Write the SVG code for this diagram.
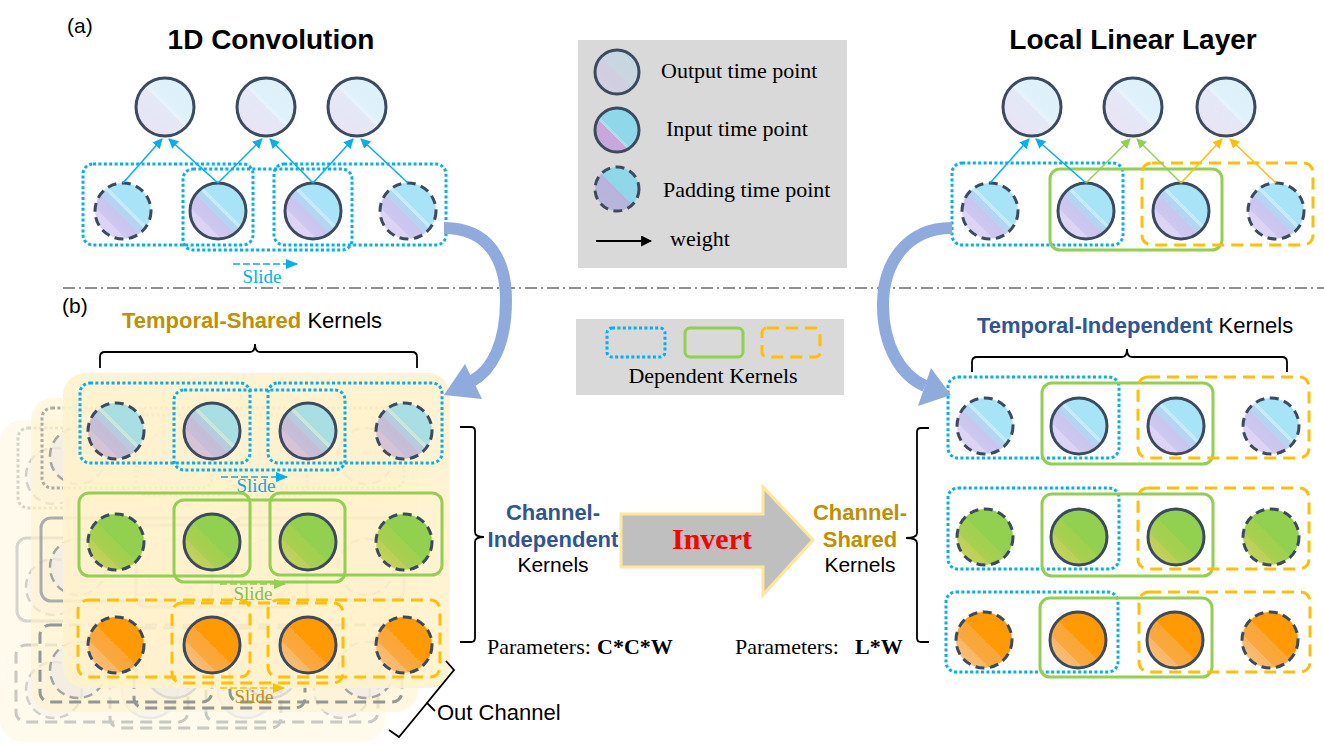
<svg xmlns="http://www.w3.org/2000/svg" xmlns:xlink="http://www.w3.org/1999/xlink" width="1324" height="744" viewBox="0 0 1324 744">
<defs>
<style>
.sans{font-family:"Liberation Sans",Arial,sans-serif}
.serif{font-family:"Liberation Serif","Times New Roman",serif}
.c{stroke:#3b4a5e;stroke-width:3}
.pad{stroke-dasharray:9 5.5}
.bd{fill:none;stroke:#00b0f0;stroke-width:3;stroke-dasharray:3 2.4}
.bg{fill:none;stroke:#92d050;stroke-width:3}
.bo{fill:none;stroke:#ffc000;stroke-width:3;stroke-dasharray:12 7}
.gc{fill:#e9e6f2;fill-opacity:0.6;stroke:#cfcfcf;stroke-width:2.5}
.gp{fill:#e9e6f2;fill-opacity:0.6;stroke:#7d8490;stroke-width:2.5;stroke-dasharray:9 5.5}
.gbd{fill:none;stroke:#8c8c8c;stroke-width:3;stroke-dasharray:3 2.4}
.gbs{fill:none;stroke:#8a9099;stroke-width:3}
.gbo{fill:none;stroke:#66707c;stroke-width:3;stroke-dasharray:12 7}
.brace{fill:none;stroke:#000;stroke-width:1.8}
.curve{fill:none;stroke:#8faadc;stroke-width:12}
</style>
<linearGradient id="gOut" x1="1" y1="0" x2="0" y2="1">
<stop offset="0" stop-color="#ddf2fa"/><stop offset="0.45" stop-color="#dff1fa"/><stop offset="0.45" stop-color="#e6f3fa"/><stop offset="0.5" stop-color="#e6f3fa"/><stop offset="0.5" stop-color="#e4e8f7"/><stop offset="0.8" stop-color="#e8e4f6"/><stop offset="0.8" stop-color="#ece2f5"/><stop offset="1" stop-color="#ece0f4"/>
</linearGradient>
<linearGradient id="gBlue" x1="1" y1="0" x2="0" y2="1">
<stop offset="0" stop-color="#a8e4f7"/><stop offset="0.42" stop-color="#a8e4f7"/><stop offset="0.42" stop-color="#c4ebf8"/><stop offset="0.47" stop-color="#c4ebf8"/><stop offset="0.47" stop-color="#b4d6f2"/><stop offset="0.56" stop-color="#b8d2f2"/><stop offset="0.56" stop-color="#c9c5ef"/><stop offset="0.72" stop-color="#cfc8f0"/><stop offset="0.72" stop-color="#ddd3f4"/><stop offset="0.86" stop-color="#ddd3f4"/><stop offset="0.86" stop-color="#ecd4f1"/><stop offset="1" stop-color="#ecd4f1"/>
</linearGradient>
<linearGradient id="gBlueT" x1="1" y1="0" x2="0" y2="1">
<stop offset="0" stop-color="#a6dfe4"/><stop offset="0.42" stop-color="#a8dfe3"/><stop offset="0.42" stop-color="#c8e6dc"/><stop offset="0.47" stop-color="#c8e6dc"/><stop offset="0.47" stop-color="#b4cedc"/><stop offset="0.56" stop-color="#b8cadc"/><stop offset="0.56" stop-color="#c4bcd8"/><stop offset="0.72" stop-color="#c8bed8"/><stop offset="0.72" stop-color="#d6c4d6"/><stop offset="0.86" stop-color="#d6c4d6"/><stop offset="0.86" stop-color="#e8ccce"/><stop offset="1" stop-color="#e8ccce"/>
</linearGradient>
<linearGradient id="gGreen" x1="1" y1="0" x2="0" y2="1">
<stop offset="0" stop-color="#92d050"/><stop offset="0.5" stop-color="#92d050"/><stop offset="0.5" stop-color="#9fd14e"/><stop offset="0.7" stop-color="#a9cf52"/><stop offset="0.7" stop-color="#b9d056"/><stop offset="0.85" stop-color="#c4d35a"/><stop offset="0.85" stop-color="#d2d65e"/><stop offset="1" stop-color="#d2d65e"/>
</linearGradient>
<linearGradient id="gOrange" x1="1" y1="0" x2="0" y2="1">
<stop offset="0" stop-color="#ff9900"/><stop offset="0.5" stop-color="#ff9a05"/><stop offset="0.5" stop-color="#fba535"/><stop offset="0.7" stop-color="#f9a93f"/><stop offset="0.7" stop-color="#f9b766"/><stop offset="0.85" stop-color="#f9bd72"/><stop offset="0.85" stop-color="#fbc68e"/><stop offset="1" stop-color="#fbc68e"/>
</linearGradient>
<linearGradient id="gLOut" x1="1" y1="0" x2="0" y2="1">
<stop offset="0" stop-color="#c3d9e3"/><stop offset="0.52" stop-color="#c8d6e0"/><stop offset="0.52" stop-color="#cfcfe1"/><stop offset="1" stop-color="#d3cfe2"/>
</linearGradient>
<linearGradient id="gLIn" x1="1" y1="0" x2="0" y2="1">
<stop offset="0" stop-color="#8ed8ea"/><stop offset="0.55" stop-color="#8ed8ea"/><stop offset="0.55" stop-color="#a9dfe8"/><stop offset="0.6" stop-color="#a9dfe8"/><stop offset="0.6" stop-color="#c8a8dc"/><stop offset="1" stop-color="#c8a8dc"/>
</linearGradient>
<linearGradient id="gLPad" x1="1" y1="0" x2="0" y2="1">
<stop offset="0" stop-color="#8ed8ea"/><stop offset="0.5" stop-color="#8ed8ea"/><stop offset="0.5" stop-color="#b6b4dc"/><stop offset="1" stop-color="#b8b6dc"/>
</linearGradient>
<marker id="mb" viewBox="0 0 10 10" refX="9" refY="5" markerWidth="10" markerHeight="10" markerUnits="userSpaceOnUse" orient="auto"><path d="M0,0 L10,5 L0,10 z" fill="#00b0f0"/></marker>
<marker id="mg" viewBox="0 0 10 10" refX="9" refY="5" markerWidth="10" markerHeight="10" markerUnits="userSpaceOnUse" orient="auto"><path d="M0,0 L10,5 L0,10 z" fill="#92d050"/></marker>
<marker id="mo" viewBox="0 0 10 10" refX="9" refY="5" markerWidth="10" markerHeight="10" markerUnits="userSpaceOnUse" orient="auto"><path d="M0,0 L10,5 L0,10 z" fill="#ffc000"/></marker>
<marker id="mk" viewBox="0 0 10 10" refX="9" refY="5" markerWidth="11" markerHeight="11" markerUnits="userSpaceOnUse" orient="auto"><path d="M0,0 L10,5 L0,10 z" fill="#000"/></marker>
<marker id="sb" viewBox="0 0 12 10" refX="11" refY="5" markerWidth="12" markerHeight="10" markerUnits="userSpaceOnUse" orient="auto"><path d="M0,0 L12,5 L0,10 z" fill="#00b0f0"/></marker>
<marker id="sg" viewBox="0 0 12 10" refX="11" refY="5" markerWidth="12" markerHeight="10" markerUnits="userSpaceOnUse" orient="auto"><path d="M0,0 L12,5 L0,10 z" fill="#92d050"/></marker>
<marker id="so" viewBox="0 0 12 10" refX="11" refY="5" markerWidth="12" markerHeight="10" markerUnits="userSpaceOnUse" orient="auto"><path d="M0,0 L12,5 L0,10 z" fill="#ffc000"/></marker>
<g id="ghost">
<circle class="gp" cx="116" cy="431" r="28"/><circle class="gc" cx="212" cy="431" r="28"/><circle class="gc" cx="308" cy="431" r="28"/><circle class="gp" cx="404" cy="431" r="28"/>
<circle class="gp" cx="116" cy="542" r="28"/><circle class="gc" cx="212" cy="542" r="28"/><circle class="gc" cx="308" cy="542" r="28"/><circle class="gp" cx="404" cy="542" r="28"/>
<circle class="gp" cx="116" cy="645" r="28"/><circle class="gc" cx="212" cy="645" r="28"/><circle class="gc" cx="308" cy="645" r="28"/><circle class="gp" cx="404" cy="645" r="28"/>
<rect class="gbd" x="80" y="383" width="170" height="80" rx="10"/><rect class="gbd" x="174" y="390" width="171" height="80" rx="10"/><rect class="gbd" x="268" y="383" width="174" height="80" rx="10"/>
<rect class="gbs" x="79" y="493" width="171" height="83" rx="10"/><rect class="gbs" x="174" y="500" width="171" height="82" rx="10"/><rect class="gbs" x="270" y="493" width="172" height="82" rx="10"/>
<rect class="gbo" x="78" y="600" width="172" height="77" rx="10"/><rect class="gbo" x="172" y="603" width="171" height="80" rx="10"/><rect class="gbo" x="268" y="600" width="172" height="77" rx="10"/>
</g>
</defs>

<rect width="1324" height="744" fill="#ffffff"/>

<!-- titles and labels -->
<g id="labels" class="sans">
<text x="67" y="33" font-size="21">(a)</text>
<text x="271" y="49" font-size="28" font-weight="bold" text-anchor="middle">1D Convolution</text>
<text x="1133" y="49" font-size="28" font-weight="bold" text-anchor="middle">Local Linear Layer</text>
<text x="62" y="313" font-size="21">(b)</text>
<text x="122" y="328" font-size="22"><tspan font-weight="bold" fill="#bf9000">Temporal-Shared</tspan> Kernels</text>
<text x="977" y="333" font-size="22"><tspan font-weight="bold" fill="#2f5597">Temporal-Independent</tspan> Kernels</text>
<text x="553" y="520" font-size="22" font-weight="bold" fill="#2f5597" text-anchor="middle">Channel-</text>
<text x="553" y="547" font-size="22" font-weight="bold" fill="#2f5597" text-anchor="middle">Independent</text>
<text x="553" y="572" font-size="21" text-anchor="middle">Kernels</text>
<text x="860" y="520" font-size="22" font-weight="bold" fill="#bf9000" text-anchor="middle">Channel-</text>
<text x="860" y="547" font-size="22" font-weight="bold" fill="#bf9000" text-anchor="middle">Shared</text>
<text x="860" y="572" font-size="21" text-anchor="middle">Kernels</text>
<text x="437" y="720" font-size="22">Out Channel</text>
</g>
<g id="params" class="serif" font-size="22">
<text x="487" y="654">Parameters:<tspan x="597" font-weight="bold">C*C*W</tspan></text>
<text x="735" y="654">Parameters:<tspan x="855" font-weight="bold">L*W</tspan></text>
</g>

<!-- legend -->
<g id="legend">
<rect x="578" y="40" width="269" height="228" fill="#d9d9d9"/>
<circle cx="617" cy="72" r="22" fill="url(#gLOut)" class="c"/>
<circle cx="617" cy="130" r="22" fill="url(#gLIn)" class="c"/>
<circle cx="617" cy="189" r="22" fill="url(#gLPad)" class="c pad"/>
<line x1="596" y1="241" x2="651" y2="241" stroke="#000" stroke-width="1.8" marker-end="url(#mk)"/>
<g class="serif" font-size="22">
<text x="661" y="78">Output time point</text>
<text x="666" y="136">Input time point</text>
<text x="663" y="197">Padding time point</text>
<text x="670" y="246">weight</text>
</g>
</g>
<g id="legend-kernels">
<rect x="576" y="319" width="268" height="76" fill="#d9d9d9"/>
<rect class="bd" x="607" y="328" width="58" height="29" rx="5"/>
<rect class="bg" x="685" y="328" width="58" height="29" rx="5"/>
<rect class="bo" x="762" y="328" width="58" height="29" rx="5" stroke-dasharray="10 7"/>
<text x="713" y="383" class="serif" font-size="22" text-anchor="middle">Dependent Kernels</text>
</g>

<!-- separator -->
<line x1="63" y1="288" x2="1324" y2="288" stroke="#222" stroke-width="1.2" stroke-dasharray="12 4 2 4"/>

<!-- (a) 1D convolution -->
<g id="a-conv">
<g id="a-out1"><circle cx="165" cy="107" r="29" fill="url(#gOut)" class="c"/></g>
<g id="a-out2"><circle cx="266" cy="107" r="29" fill="url(#gOut)" class="c"/></g>
<g id="a-out3"><circle cx="357" cy="107" r="29" fill="url(#gOut)" class="c"/></g>
<g id="a-in1"><circle cx="123" cy="211" r="28" fill="url(#gBlue)" class="c pad"/></g>
<g id="a-in2"><circle cx="218" cy="211" r="28" fill="url(#gBlue)" class="c"/></g>
<g id="a-in3"><circle cx="313" cy="211" r="28" fill="url(#gBlue)" class="c"/></g>
<g id="a-in4"><circle cx="408" cy="211" r="28" fill="url(#gBlue)" class="c pad"/></g>
<g id="a-k1"><rect class="bd" x="83" y="164" width="170" height="81" rx="10"/></g>
<g id="a-k2"><rect class="bd" x="183" y="169" width="169" height="81" rx="10"/></g>
<g id="a-k3"><rect class="bd" x="274" y="164" width="172" height="81" rx="10"/></g>
<text x="262" y="283" class="serif" font-size="19" fill="#00b0f0" text-anchor="middle">Slide</text>
</g>

<!-- (a) local linear -->
<g id="a-lll">
<g id="l-out1"><circle cx="1032" cy="107" r="29" fill="url(#gOut)" class="c"/></g>
<g id="l-out2"><circle cx="1133" cy="107" r="29" fill="url(#gOut)" class="c"/></g>
<g id="l-out3"><circle cx="1226" cy="107" r="29" fill="url(#gOut)" class="c"/></g>
<g id="l-in1"><circle cx="990" cy="211" r="28" fill="url(#gBlue)" class="c pad"/></g>
<g id="l-in2"><circle cx="1086" cy="211" r="28" fill="url(#gBlue)" class="c"/></g>
<g id="l-in3"><circle cx="1181" cy="211" r="28" fill="url(#gBlue)" class="c"/></g>
<g id="l-in4"><circle cx="1276" cy="211" r="28" fill="url(#gBlue)" class="c pad"/></g>
<g id="l-k1"><rect class="bd" x="952" y="163" width="171" height="82" rx="10"/></g>
<g id="l-k2"><rect class="bg" x="1050" y="169" width="172" height="81" rx="10"/></g>
<g id="l-k3"><rect class="bo" x="1142" y="163" width="171" height="82" rx="10"/></g>
</g>

<!-- (b) stacked panels -->
<g id="b-stack">
<rect x="0" y="420" width="385" height="322" rx="22" fill="#fff2cc" fill-opacity="0.4"/>
<use xlink:href="#ghost" href="#ghost" transform="translate(-62,45)" opacity="0.35"/>
<rect x="31" y="398" width="387" height="314" rx="22" fill="#fff2cc" fill-opacity="0.6"/>
<use xlink:href="#ghost" href="#ghost" transform="translate(-38,25)" opacity="0.7"/>
<rect x="63" y="373" width="387" height="315" rx="22" fill="#fff2cc" fill-opacity="0.9"/>
</g>
<g id="b-left">
<g id="bl-r1">
<circle cx="116" cy="431" r="28" fill="url(#gBlueT)" class="c pad"/>
<circle cx="212" cy="431" r="28" fill="url(#gBlueT)" class="c"/>
<circle cx="308" cy="431" r="28" fill="url(#gBlueT)" class="c"/>
<circle cx="404" cy="431" r="28" fill="url(#gBlueT)" class="c pad"/>
<rect class="bd" x="80" y="383" width="170" height="80" rx="10"/>
<rect class="bd" x="174" y="390" width="171" height="80" rx="10"/>
<rect class="bd" x="268" y="383" width="174" height="80" rx="10"/>
<text x="256" y="492" class="serif" font-size="19" fill="#1aa3dc" text-anchor="middle">Slide</text>
</g>
<g id="bl-r2">
<circle cx="116" cy="542" r="28" fill="url(#gGreen)" class="c pad"/>
<circle cx="212" cy="542" r="28" fill="url(#gGreen)" class="c"/>
<circle cx="308" cy="542" r="28" fill="url(#gGreen)" class="c"/>
<circle cx="404" cy="542" r="28" fill="url(#gGreen)" class="c pad"/>
<rect class="bg" x="79" y="493" width="171" height="83" rx="10"/>
<rect class="bg" x="174" y="500" width="171" height="82" rx="10"/>
<rect class="bg" x="270" y="493" width="172" height="82" rx="10"/>
<text x="253" y="600" class="serif" font-size="19" fill="#7fbf4a" text-anchor="middle">Slide</text>
</g>
<g id="bl-r3">
<circle cx="116" cy="645" r="28" fill="url(#gOrange)" class="c pad"/>
<circle cx="212" cy="645" r="28" fill="url(#gOrange)" class="c"/>
<circle cx="308" cy="645" r="28" fill="url(#gOrange)" class="c"/>
<circle cx="404" cy="645" r="28" fill="url(#gOrange)" class="c pad"/>
<rect class="bo" x="78" y="600" width="172" height="77" rx="10"/>
<rect class="bo" x="172" y="603" width="171" height="80" rx="10"/>
<rect class="bo" x="268" y="600" width="172" height="77" rx="10"/>
<text x="254" y="703" class="serif" font-size="19" fill="#b8901c" text-anchor="middle">Slide</text>
</g>
</g>

<!-- (b) right grid -->
<g id="b-right">
<g id="br-r1">
<circle cx="985" cy="426" r="28" fill="url(#gBlue)" class="c pad"/>
<circle cx="1079" cy="426" r="28" fill="url(#gBlue)" class="c"/>
<circle cx="1176" cy="426" r="28" fill="url(#gBlue)" class="c"/>
<circle cx="1271" cy="426" r="28" fill="url(#gBlue)" class="c pad"/>
<rect class="bd" x="948" y="377" width="171" height="81" rx="10"/>
<rect class="bg" x="1042" y="383" width="171" height="81" rx="10"/>
<rect class="bo" x="1138" y="377" width="171" height="81" rx="10"/>
</g>
<g id="br-r2">
<circle cx="985" cy="537" r="28" fill="url(#gGreen)" class="c pad"/>
<circle cx="1079" cy="537" r="28" fill="url(#gGreen)" class="c"/>
<circle cx="1176" cy="537" r="28" fill="url(#gGreen)" class="c"/>
<circle cx="1271" cy="537" r="28" fill="url(#gGreen)" class="c pad"/>
<rect class="bd" x="948" y="488" width="171" height="81" rx="10"/>
<rect class="bg" x="1042" y="494" width="171" height="82" rx="10"/>
<rect class="bo" x="1138" y="488" width="171" height="81" rx="10"/>
</g>
<g id="br-r3">
<circle cx="984" cy="640" r="28" fill="url(#gOrange)" class="c pad"/>
<circle cx="1078" cy="640" r="28" fill="url(#gOrange)" class="c"/>
<circle cx="1175" cy="640" r="28" fill="url(#gOrange)" class="c"/>
<circle cx="1270" cy="640" r="28" fill="url(#gOrange)" class="c pad"/>
<rect class="bd" x="946" y="592" width="172" height="80" rx="10"/>
<rect class="bg" x="1040" y="598" width="172" height="79" rx="10"/>
<rect class="bo" x="1139" y="592" width="171" height="80" rx="10"/>
</g>
</g>

<!-- invert arrow -->
<g id="invert">
<polygon points="621,514 763,514 763,487 813,540 763,595 763,567 621,567" fill="#bfbfbf" stroke="#ffe699" stroke-width="3"/>
<text x="712" y="549" class="serif" font-size="30" font-weight="bold" fill="#ff0000" text-anchor="middle">Invert</text>
</g>

<!-- braces -->
<g id="braces">
<path class="brace" d="M100 368 V357 Q100 352 105 352 H250 Q255 352 255 344 Q255 352 260 352 H412 Q417 352 417 357 V368"/>
<path class="brace" d="M972 372 V362 Q972 357 977 357 H1122 Q1127 357 1127 349 Q1127 357 1132 357 H1282 Q1287 357 1287 362 V372"/>
<path class="brace" d="M460 427 H471 Q475 427 475 431 V532 Q475 537 484 537 Q475 537 475 542 V638 Q475 642 471 642 H460"/>
<path class="brace" d="M929 428 H921 Q917 428 917 432 V533 Q917 538 906 538 Q917 538 917 543 V638 Q917 642 921 642 H929"/>
<path class="brace" d="M446 661 L454 670 L427 703 L435 711 M427 703 L399 737 L389 730"/>
</g>

<!-- connectors -->
<g id="connectors" stroke-width="1.5" fill="none">
<line x1="123" y1="183" x2="162" y2="139" stroke="#00b0f0" marker-end="url(#mb)"/>
<line x1="218" y1="183" x2="169" y2="139" stroke="#00b0f0" marker-end="url(#mb)"/>
<line x1="218" y1="183" x2="262" y2="139" stroke="#00b0f0" marker-end="url(#mb)"/>
<line x1="313" y1="183" x2="270" y2="139" stroke="#00b0f0" marker-end="url(#mb)"/>
<line x1="313" y1="183" x2="353" y2="139" stroke="#00b0f0" marker-end="url(#mb)"/>
<line x1="408" y1="183" x2="361" y2="139" stroke="#00b0f0" marker-end="url(#mb)"/>
<line x1="990" y1="183" x2="1029" y2="139" stroke="#00b0f0" marker-end="url(#mb)"/>
<line x1="1086" y1="183" x2="1036" y2="139" stroke="#00b0f0" marker-end="url(#mb)"/>
<line x1="1086" y1="183" x2="1130" y2="139" stroke="#92d050" marker-end="url(#mg)"/>
<line x1="1181" y1="183" x2="1137" y2="139" stroke="#92d050" marker-end="url(#mg)"/>
<line x1="1181" y1="183" x2="1222" y2="139" stroke="#ffc000" marker-end="url(#mo)"/>
<line x1="1276" y1="183" x2="1230" y2="139" stroke="#ffc000" marker-end="url(#mo)"/>
<line x1="233" y1="264" x2="297" y2="264" stroke="#00b0f0" stroke-dasharray="7 3" marker-end="url(#sb)"/>
<line x1="221" y1="477" x2="287" y2="477" stroke="#00b0f0" stroke-dasharray="7 3" marker-end="url(#sb)"/>
<line x1="220" y1="584" x2="285" y2="584" stroke="#92d050" stroke-dasharray="7 3" marker-end="url(#sg)"/>
<line x1="220" y1="688" x2="284" y2="688" stroke="#ffc000" stroke-dasharray="7 3" marker-end="url(#so)"/>
<path class="curve" d="M444 228 C490 228 506 262 506 300 C506 344 492 370 472 381"/>
<polygon points="444,395 465,364 482,399" fill="#8faadc"/>
<path class="curve" d="M952 228 C905 228 883 265 883 305 C883 345 900 375 925 386"/>
<polygon points="951,395 931,368 918,406" fill="#8faadc"/>
</g>
</svg>
